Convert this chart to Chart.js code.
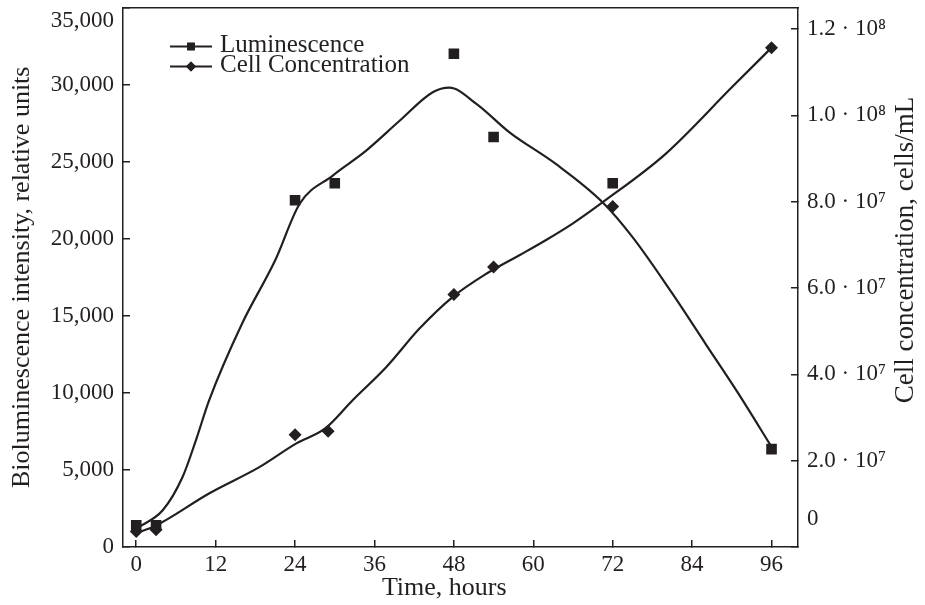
<!DOCTYPE html>
<html lang="en">
<head>
<meta charset="UTF-8">
<title>Luminescence and cell concentration</title>
<script src="https://cdn.jsdelivr.net/npm/chart.js"></script>
<style>
  html, body { margin: 0; padding: 0; background: #fff; }
</style>
</head>
<body>
<canvas id="chart" width="925" height="605"></canvas>
<script>
// measured points (markers)
const lumHours = [0, 3, 24, 30, 48, 54, 72, 96];
const lumValues = [1400, 1400, 22500, 23600, 32000, 26600, 23600, 6350];
const cellHours = [0, 3, 24, 29, 48, 54, 72, 96];
const cellValues = [3.6e6, 4.0e6, 2.60e7, 2.68e7, 5.85e7, 6.49e7, 7.89e7, 1.157e8];

// smoothed curves
const lumCurveHours = [0, 4, 7, 9, 11, 16, 21, 24.7, 29.7, 34.7, 39.8, 44.8, 47.3, 51.4, 56.4, 63.4, 70.5, 75, 81, 86, 91, 96];
const lumCurveValues = [1200, 2380, 4540, 6900, 9500, 14500, 18600, 22270, 24100, 25700, 27650, 29500, 29800, 28750, 26900, 24850, 22350, 20100, 16450, 13200, 9950, 6500];
const cellCurveHours = [0, 3, 11, 18.6, 24.2, 28.5, 32.7, 37.8, 42.8, 47.8, 52.9, 57.9, 62, 66, 70.5, 80, 90, 96];
const cellCurveValues = [3.2e6, 5.0e6, 1.24e7, 1.85e7, 2.4e7, 2.74e7, 3.4e7, 4.17e7, 5.06e7, 5.79e7, 6.33e7, 6.76e7, 7.12e7, 7.5e7, 7.99e7, 9.11e7, 1.065e8, 1.157e8];

// axes
const hourTicks = [0, 12, 24, 36, 48, 60, 72, 84, 96];
const lumTicks = [0, 5000, 10000, 15000, 20000, 25000, 30000, 35000];
const lumTickLabels = ['0', '5,000', '10,000', '15,000', '20,000', '25,000', '30,000', ['', '35,000']];
const cellTicks = [0, 2e7, 4e7, 6e7, 8e7, 1e8, 1.2e8];
const cellTickLabels = [['0', '', ''], '2.0 \u00b7 10\u2077', '4.0 \u00b7 10\u2077', '6.0 \u00b7 10\u2077', '8.0 \u00b7 10\u2077', '1.0 \u00b7 10\u2078', '1.2 \u00b7 10\u2078'];
const legendNames = ['Luminescence', 'Cell Concentration'];

const ink = '#231f20';
const serif = '"Liberation Serif", "DejaVu Serif", serif';

function pairs(xs, ys) {
  return xs.map((x, i) => ({ x: x, y: ys[i] }));
}

// keep the frame where the reference has it, labels may overhang
function noPad(s) {
  s.paddingTop = 0;
  s.paddingBottom = 0;
  s.paddingLeft = 0;
  s.paddingRight = 0;
}

// legend with line + marker, and the right title read bottom to top
const overlay = {
  id: 'overlay',
  afterDraw(chart) {
    const ctx = chart.ctx;
    const area = chart.chartArea;
    ctx.save();
    ctx.fillStyle = ink;
    ctx.strokeStyle = ink;
    ctx.font = '25px ' + serif;
    ctx.textBaseline = 'middle';
    const styles = [{ pointStyle: 'rect', radius: 5.4 }, { pointStyle: 'rectRot', radius: 5 }];
    legendNames.forEach((name, i) => {
      const y = area.top + 39 + i * 20;
      const x0 = area.left + 47;
      ctx.lineWidth = 2;
      ctx.beginPath();
      ctx.moveTo(x0, y);
      ctx.lineTo(x0 + 42, y);
      ctx.stroke();
      Chart.helpers.drawPoint(ctx, { pointStyle: styles[i].pointStyle, radius: styles[i].radius, rotation: 0, borderWidth: 0 }, x0 + 21, y);
      ctx.fill();
      ctx.fillText(name, x0 + 50, y - 1);
    });
    ctx.font = '27px ' + serif;
    ctx.translate(906, 250);
    ctx.rotate(-Math.PI / 2);
    ctx.textAlign = 'center';
    ctx.fillText('Cell concentration, cells/mL', 0, 0);
    ctx.restore();
  }
};

new Chart(document.getElementById('chart'), {
  type: 'scatter',
  data: {
    datasets: [
      {
        label: 'Luminescence',
        data: pairs(lumHours, lumValues),
        yAxisID: 'y',
        pointStyle: 'rect',
        pointRadius: 7.5,
        backgroundColor: ink,
        borderWidth: 0
      },
      {
        label: 'Cell Concentration',
        data: pairs(cellHours, cellValues),
        yAxisID: 'y2',
        pointStyle: 'rectRot',
        pointRadius: 6.5,
        backgroundColor: ink,
        borderWidth: 0
      },
      {
        label: 'lum fit',
        data: pairs(lumCurveHours, lumCurveValues),
        yAxisID: 'y',
        showLine: true,
        pointRadius: 0,
        borderColor: ink,
        borderWidth: 2.2,
        cubicInterpolationMode: 'monotone'
      },
      {
        label: 'cell fit',
        data: pairs(cellCurveHours, cellCurveValues),
        yAxisID: 'y2',
        showLine: true,
        pointRadius: 0,
        borderColor: ink,
        borderWidth: 2.2,
        cubicInterpolationMode: 'monotone'
      }
    ]
  },
  options: {
    responsive: false,
    animation: false,
    devicePixelRatio: 1,
    layout: { padding: { top: 7, left: 0, right: 0, bottom: 0 } },
    plugins: {
      legend: { display: false },
      tooltip: { enabled: false }
    },
    scales: {
      x: {
        type: 'linear',
        position: 'bottom',
        min: -2,
        max: 100,
        afterBuildTicks: s => { s.ticks = hourTicks.map(v => ({ value: v })); },
        afterFit: s => { s.height = 58; noPad(s); },
        ticks: { font: { family: serif, size: 23 }, color: ink, padding: 11, maxRotation: 0, autoSkip: false },
        grid: { drawOnChartArea: false, tickLength: -7, color: ink, lineWidth: 1.5 },
        border: { color: ink, width: 1.5 },
        title: {
          display: true,
          text: 'Time, hours     ',
          color: ink,
          font: { family: serif, size: 26 },
          padding: { top: 0, bottom: 1 }
        }
      },
      x2: {
        type: 'linear',
        position: 'top',
        min: -2,
        max: 100,
        afterFit: s => { s.height = 0; noPad(s); },
        ticks: { display: false },
        grid: { display: false },
        border: { color: ink, width: 1.5 }
      },
      y: {
        type: 'linear',
        position: 'left',
        min: 0,
        max: 35000,
        afterBuildTicks: s => { s.ticks = lumTicks.map(v => ({ value: v })); },
        afterFit: s => { s.width = 123; noPad(s); },
        ticks: {
          font: { family: serif, size: 23 },
          color: ink,
          padding: 16,
          autoSkip: false,
          callback: (v, i) => lumTickLabels[i]
        },
        grid: { drawOnChartArea: false, tickLength: -7, color: ink, lineWidth: 1.5 },
        border: { color: ink, width: 1.5 },
        title: {
          display: true,
          text: 'Bioluminescence intensity, relative units',
          color: ink,
          font: { family: serif, size: 26 },
          padding: { top: 7, bottom: 0 }
        }
      },
      y2: {
        type: 'linear',
        position: 'right',
        min: 0,
        max: 1.25e8,
        afterBuildTicks: s => { s.ticks = cellTicks.map(v => ({ value: v })); },
        afterFit: s => { s.width = 127; noPad(s); },
        ticks: {
          font: { family: serif, size: 23 },
          color: ink,
          padding: 16,
          autoSkip: false,
          callback: (v, i) => cellTickLabels[i]
        },
        grid: { drawOnChartArea: false, tickLength: -7, color: ink, lineWidth: 1.5 },
        border: { color: ink, width: 1.5 }
      }
    }
  },
  plugins: [overlay]
});
</script>
</body>
</html>
